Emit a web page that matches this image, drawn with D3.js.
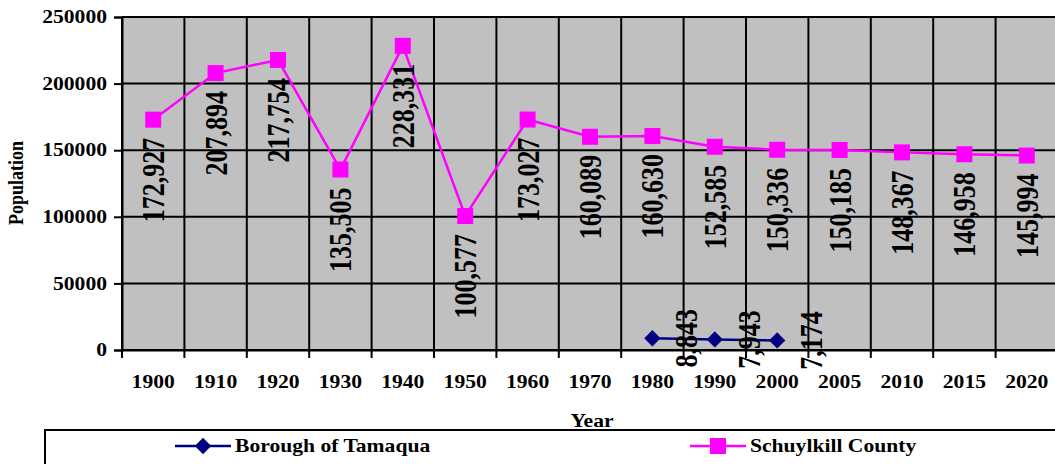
<!DOCTYPE html>
<html>
<head>
<meta charset="utf-8">
<script src="https://cdn.jsdelivr.net/npm/d3@7"></script>
<style>
body { margin: 0; background: #fff; overflow: hidden; }
text { font-family: "Liberation Serif", "Times New Roman", serif; font-weight: bold; }
</style>
</head>
<body>
<div id="chart"></div>
<script>
// data
var years = ["1900","1910","1920","1930","1940","1950","1960","1970","1980","1990","2000","2005","2010","2015","2020"];
var schuylkill = [172927, 207894, 217754, 135505, 228331, 100577, 173027, 160089, 160630, 152585, 150336, 150185, 148367, 146958, 145994];
var tamaquaYears = ["1980","1990","2000"];
var tamaqua = [8843, 7943, 7174];
var yTicks = [0, 50000, 100000, 150000, 200000, 250000];

var W = 1055, H = 464;
var plotLeft = 122, plotRight = 1058, plotTop = 17, plotBottom = 350;
var sx = 1.2; // the picture is stretched sideways

var svg = d3.select('#chart').append('svg')
	.attr('width', W)
	.attr('height', H);

var x = d3.scaleBand().domain(years).range([plotLeft, plotRight]).paddingInner(0).paddingOuter(0);
var y = d3.scaleLinear().domain([0, 250000]).range([plotBottom, plotTop]);
var fmt = d3.format(",");

// plot area
svg.append('rect')
	.attr('x', plotLeft).attr('y', plotTop)
	.attr('width', plotRight - plotLeft).attr('height', plotBottom - plotTop)
	.attr('fill', '#c0c0c0');

// grid lines
svg.selectAll('.hgrid').data(yTicks).enter().append('line')
	.attr('x1', plotLeft).attr('x2', plotRight)
	.attr('y1', function(d) { return y(d); })
	.attr('y2', function(d) { return y(d); })
	.attr('stroke', '#000').attr('stroke-width', 2);

var bounds = years.map(function(d) { return x(d); }).concat([plotRight]);
svg.selectAll('.vgrid').data(bounds).enter().append('line')
	.attr('x1', function(d) { return d; }).attr('x2', function(d) { return d; })
	.attr('y1', plotTop).attr('y2', plotBottom + 8)
	.attr('stroke', '#000').attr('stroke-width', 2);

// y axis
var yAxis = svg.append('g')
	.attr('transform', 'translate(' + plotLeft + ',0)')
	.call(d3.axisLeft(y).tickValues(yTicks).tickSize(8).tickFormat(d3.format('d')));
yAxis.select('.domain').attr('stroke-width', 2);
yAxis.selectAll('.tick line').attr('stroke-width', 2);
yAxis.selectAll('text')
	.attr('font-size', 18)
	.attr('x', -12.5)
	.attr('transform', 'scale(' + sx + ',1)');

// x axis
var xAxis = svg.append('g')
	.attr('transform', 'translate(0,' + plotBottom + ')')
	.call(d3.axisBottom(x).tickSize(0).tickPadding(25));
xAxis.select('.domain').attr('stroke-width', 2);
xAxis.selectAll('text')
	.attr('font-size', 18)
	.attr('transform', 'scale(' + sx + ',1)')
	.attr('x', 0);

// axis titles
svg.append('text')
	.attr('transform', 'translate(592,427) scale(' + sx + ',1)')
	.attr('text-anchor', 'middle')
	.attr('font-size', 18)
	.text('Year');

svg.append('text')
	.attr('transform', 'translate(23,183) rotate(-90) scale(1,' + sx + ')')
	.attr('text-anchor', 'middle')
	.attr('font-size', 18)
	.text('Population');

// Schuylkill County line
var sData = years.map(function(d, i) { return {year: d, v: schuylkill[i]}; });
var line = d3.line()
	.x(function(d) { return x(d.year) + x.bandwidth() / 2; })
	.y(function(d) { return y(d.v); });

svg.append('path').datum(sData)
	.attr('d', line)
	.attr('fill', 'none')
	.attr('stroke', '#ff00ff')
	.attr('stroke-width', 2.5);

svg.selectAll('.sq').data(sData).enter().append('rect')
	.attr('x', function(d) { return x(d.year) + x.bandwidth() / 2 - 8; })
	.attr('y', function(d) { return y(d.v) - 8; })
	.attr('width', 16).attr('height', 16)
	.attr('fill', '#ff00ff');

svg.selectAll('.slab').data(sData).enter().append('text')
	.attr('transform', function(d) {
		return 'translate(' + (x(d.year) + x.bandwidth() / 2) + ',' + (y(d.v) + 18) + ') scale(' + sx + ',1) rotate(-90)';
	})
	.attr('text-anchor', 'end')
	.attr('dy', '0.35em')
	.attr('font-size', 26)
	.text(function(d) { return fmt(d.v); });

// Borough of Tamaqua line
var tData = tamaquaYears.map(function(d, i) { return {year: d, v: tamaqua[i]}; });
svg.append('path').datum(tData)
	.attr('d', line)
	.attr('fill', 'none')
	.attr('stroke', '#000080')
	.attr('stroke-width', 2.5);

var diamond = d3.symbol().type(d3.symbolDiamond2).size(170);
svg.selectAll('.dm').data(tData).enter().append('path')
	.attr('d', diamond)
	.attr('transform', function(d) {
		return 'translate(' + (x(d.year) + x.bandwidth() / 2) + ',' + y(d.v) + ')';
	})
	.attr('fill', '#000080');

svg.selectAll('.tlab').data(tData).enter().append('text')
	.attr('transform', function(d) {
		return 'translate(' + (x(d.year) + x.bandwidth() / 2 + 34) + ',' + y(d.v) + ') scale(' + sx + ',1) rotate(-90)';
	})
	.attr('text-anchor', 'middle')
	.attr('dy', '0.35em')
	.attr('font-size', 26)
	.text(function(d) { return fmt(d.v); });

// legend
svg.append('rect')
	.attr('x', 45).attr('y', 430)
	.attr('width', 1020).attr('height', 40)
	.attr('fill', '#fff')
	.attr('stroke', '#000').attr('stroke-width', 2);

var legend = [
	{name: 'Borough of Tamaqua', color: '#000080', x: 175, shape: 'diamond'},
	{name: 'Schuylkill County', color: '#ff00ff', x: 690, shape: 'square'}
];
var lg = svg.selectAll('.lg').data(legend).enter().append('g')
	.attr('transform', function(d) { return 'translate(' + d.x + ',446)'; });
lg.append('line')
	.attr('x1', 0).attr('x2', 56).attr('y1', 0).attr('y2', 0)
	.attr('stroke', function(d) { return d.color; }).attr('stroke-width', 2.5);
lg.append('path')
	.attr('d', function(d) {
		return d.shape == 'diamond' ? diamond() : d3.symbol().type(d3.symbolSquare).size(256)();
	})
	.attr('transform', 'translate(28,0)')
	.attr('fill', function(d) { return d.color; });
lg.append('text')
	.attr('transform', 'translate(60,0) scale(' + sx + ',1)')
	.attr('dy', '0.35em')
	.attr('font-size', 18)
	.text(function(d) { return d.name; });
</script>
</body>
</html>
